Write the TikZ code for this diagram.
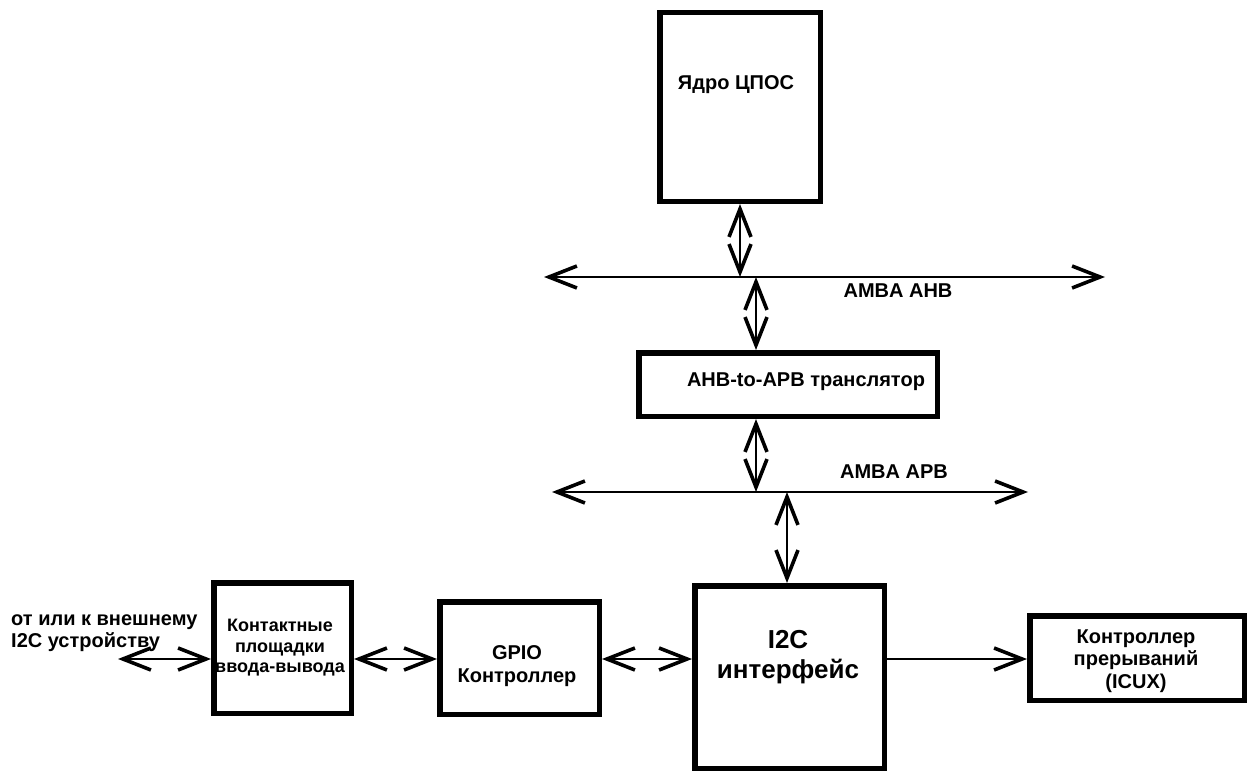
\documentclass[tikz,border=0pt]{standalone}
\usepackage{fontspec}
\setmainfont{Liberation Sans}
\usetikzlibrary{arrows.meta}
\tikzset{
  barb/.tip={Straight Barb[length=28pt,width=22pt,line width=3.6pt]},
  box/.style={draw, line width=5.5pt, rectangle, inner sep=0pt},
  biarrow/.style={line width=1.6pt, barb-barb},
  onearrow/.style={line width=1.6pt, -barb},
  txt/.style={inner sep=0pt, font=\bfseries\fontsize{20}{22.5}\selectfont, align=center},
}
\begin{document}
\begin{tikzpicture}[x=1pt,y=-1pt]
\useasboundingbox (0,0) rectangle (1253,773);
% boxes
\node[box, minimum width=160.5pt, minimum height=188.5pt] (core) at (740,107) {};
\node[box, minimum width=298.5pt, minimum height=63.5pt] (tr) at (788,384.5) {};
\node[box, minimum width=189.5pt, minimum height=182.5pt] (i2c) at (789.5,677) {};
\node[box, minimum width=214.5pt, minimum height=84.5pt] (icu) at (1137,658) {};
\node[box, minimum width=159.5pt, minimum height=112.5pt] (gpio) at (519.5,658) {};
\node[box, minimum width=137.5pt, minimum height=130.5pt] (pads) at (282.5,648) {};
% texts
\node[txt] (tcore) at (736,85) {Ядро ЦПОС};
\node[txt] (ttr) at (806,382) {AHB-to-APB транслятор};
\node[txt] (tahb) at (898,291) {AMBA AHB};
\node[txt] (tapb) at (894,472) {AMBA APB};
\node[txt, font=\bfseries\fontsize{26}{30}\selectfont] (ti2c) at (788,657) {I2C\\интерфейс};
\node[txt] (ticu) at (1136,661) {Контроллер\\прерываний\\(ICUX)};
\node[txt] (tgpio) at (517,666) {GPIO\\Контроллер};
\node[txt, font=\bfseries\fontsize{18}{20.5}\selectfont] (tpads) at (280,648) {Контактные\\площадки\\ввода-вывода};
\node[txt, anchor=west, align=left] (text) at (11,633) {от или к внешнему\\I2C устройству};
% buses
\coordinate (ahbL) at (544,277);
\coordinate (ahbR) at (1105,277);
\coordinate (apbL) at (552,492);
\coordinate (apbR) at (1028,492);
\draw[biarrow] (ahbL) -- (ahbR);
\draw[biarrow] (apbL) -- (apbR);
% taps
\coordinate (tap1) at (756,277);
\coordinate (tap2) at (756,492);
\coordinate (tap3) at (787,492);
\draw[biarrow] (core.south) -- (core.south |- ahbL);
\draw[biarrow] (tap1) -- (tap1 |- tr.north);
\draw[biarrow] (tr.south -| tap2) -- (tap2);
\draw[biarrow] (tap3) -- (tap3 |- i2c.north);
% bottom row
\coordinate (ext) at (118,659);
\draw[biarrow] (ext) -- (ext -| pads.west);
\draw[biarrow] (pads.east |- ext) -- (gpio.west |- ext);
\draw[biarrow] (gpio.east |- ext) -- (i2c.west |- ext);
\draw[onearrow] (i2c.east |- ext) -- (icu.west |- ext);
\end{tikzpicture}
\end{document}
